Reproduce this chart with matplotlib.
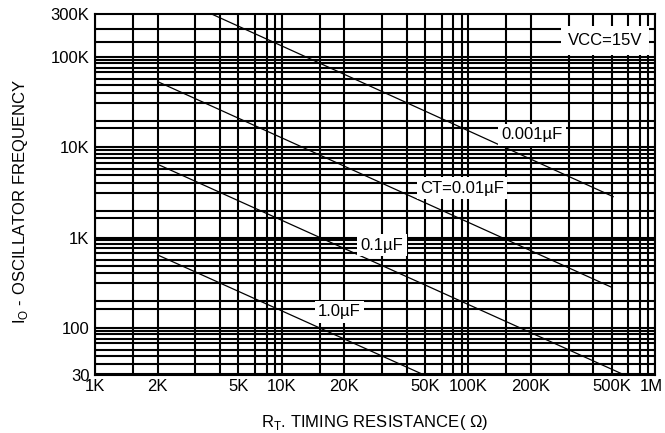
import numpy as np
import matplotlib
matplotlib.use("Agg")
import matplotlib.pyplot as plt
from matplotlib.ticker import FixedLocator, NullFormatter
from matplotlib.transforms import ScaledTranslation

plt.rcParams['font.family'] = ['Liberation Sans', 'DejaVu Sans']

# ---------------------------------------------------------------------------
# data (R_T in ohm, frequency in Hz) - straight segments
# ---------------------------------------------------------------------------
ct_labels = ["0.001\u00b5F", "CT=0.01\u00b5F", "0.1\u00b5F", "1.0\u00b5F"]
rt_start = [3660, 2000, 2000, 2000]
rt_end = [509000, 500000, 560000, 48000]
fo_start = [300000, 53400, 6480, 641]
fo_end = [2840, 281, 31, 31]
# where each curve label sits
label_rt = [202000, 81000, 30000, 19000]
label_fo = [13700, 3500, 826, 150]

x_ticks = [1e3, 2e3, 5e3, 1e4, 2e4, 5e4, 1e5, 2e5, 5e5, 1e6]
x_ticklabels = ["1K", "2K", "5K", "10K", "20K", "50K", "100K", "200K", "500K", "1M"]
y_ticks = [30, 100, 1e3, 1e4, 1e5, 3e5]
y_ticklabels = ["30", "100", "1K", "10K", "100K", "300K"]

# the printed x grid is not a true log grid: per decade, nominal multiplier
# -> fraction of the decade where its line is drawn
X_MULT = np.array([1, 1.5, 2, 3, 4, 5, 6, 7, 8, 10])
X_FRAC = np.array([0, 0.203, 0.336, 0.538, 0.669, 0.768, 0.857, 0.920, 0.964, 1.0])

# horizontal grid lines as drawn
Y_MULT = [1, 1.63, 1.98, 3.1, 4.0, 4.9, 5.7, 6.75, 7.6, 8.5, 9.3]
y_grid = [31, 40, 49, 57, 67.5, 76, 85, 93]
for dec in [100, 1e3, 1e4]:
    y_grid += [dec * m for m in Y_MULT]
y_grid += [1e5, 1.47e5, 2.06e5]


def fwd(x):
    x = np.asarray(x, dtype=float)
    out = np.full(x.shape, np.nan)
    ok = x > 0
    d = np.floor(np.log10(x[ok]) + 1e-9)
    out[ok] = d + np.interp(x[ok] / 10**d, X_MULT, X_FRAC)
    return out


def inv(y):
    y = np.asarray(y, dtype=float)
    d = np.floor(y + 1e-9)
    return 10**d * np.interp(y - d, X_FRAC, X_MULT)


x_grid = [dec * m for dec in [1e3, 1e4, 1e5] for m in X_MULT[:-1]] + [1e6]

fig = plt.figure(figsize=(6.65, 4.33), dpi=100)
ax = fig.add_axes([95 / 665, 58 / 433, 560 / 665, 361 / 433])
ax.set_xscale('function', functions=(fwd, inv))
ax.set_yscale('log')

for xv in x_grid:
    ax.axvline(xv, color='black', lw=1.5, zorder=1)
for yv in y_grid:
    ax.axhline(yv, color='black', lw=1.5, zorder=1)

for i in range(len(ct_labels)):
    ax.plot([rt_start[i], rt_end[i]], [fo_start[i], fo_end[i]],
            color='black', lw=0.9, zorder=2)
    ax.text(label_rt[i], label_fo[i], ct_labels[i], fontsize=12,
            ha='center', va='center', zorder=3,
            bbox=dict(facecolor='white', edgecolor='none', pad=2.5))

ax.text(464000, 154000, "VCC=15V", fontsize=12, ha='center', va='center',
        zorder=3, bbox=dict(facecolor='white', edgecolor='none', pad=5))

ax.set_xlim(1e3, 1e6)
ax.set_ylim(30, 3e5)
ax.xaxis.set_major_locator(FixedLocator(x_ticks))
ax.xaxis.set_minor_locator(FixedLocator([]))
ax.set_xticklabels(x_ticklabels)
ax.yaxis.set_major_locator(FixedLocator(y_ticks))
ax.yaxis.set_minor_locator(FixedLocator([]))
ax.yaxis.set_minor_formatter(NullFormatter())
ax.set_yticklabels(y_ticklabels)
ax.tick_params(length=0, labelsize=12)
ax.tick_params(axis='y', pad=4)
ax.tick_params(axis='x', pad=3)

# "1M" sits a little left of its grid line so it stays inside the picture
last = ax.get_xticklabels()[-1]
last.set_transform(last.get_transform() + ScaledTranslation(-3 / 72, 0, fig.dpi_scale_trans))

for sp in ax.spines.values():
    sp.set_linewidth(1.5)
    sp.set_zorder(4)

ax.set_xlabel(r"R$_\mathregular{T}$. TIMING RESISTANCE( Ω)", fontsize=12)
ax.xaxis.set_label_coords(0.5, -0.105)
ax.set_ylabel(r"I$_\mathregular{O}$ - OSCILLATOR FREQUENCY", fontsize=12)
ax.yaxis.set_label_coords(-0.116, 0.48)

fig.savefig("out.png", dpi=100)
